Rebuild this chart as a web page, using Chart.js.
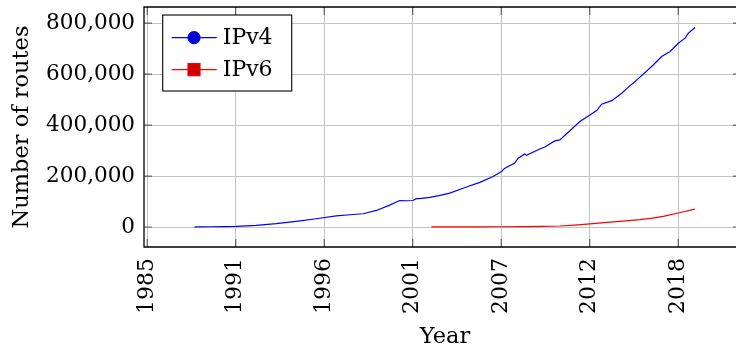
<!DOCTYPE html>
<html><head><meta charset="utf-8">
<script src="https://cdn.jsdelivr.net/npm/chart.js@4.4.1/dist/chart.umd.min.js"></script>
<style>
html,body{margin:0;padding:0;overflow:hidden;background:#fff}
#wrap{width:736px;height:351px;position:relative}
</style>
</head><body><div id="wrap"><canvas id="c"></canvas></div>
<script>
// ---- data ----
const ipv4Years = [1988.47, 1989.5, 1990.3, 1991.05, 1992.29, 1993.53, 1994.77, 1996.01, 1997.25, 1998.1, 1998.9, 1999.73, 2000.55, 2001.17, 2001.6, 2001.99, 2002.2, 2002.41, 2003.03, 2003.6, 2004.27, 2005.3, 2006.13, 2006.95, 2007.47, 2007.68, 2008.29, 2008.5, 2008.91, 2009.02, 2009.84, 2010.15, 2010.77, 2011.08, 2011.7, 2012.32, 2012.94, 2013.36, 2013.67, 2014.29, 2014.91, 2015.42, 2015.62, 2016.24, 2016.86, 2017.38, 2017.9, 2018.41, 2018.83, 2019.03, 2019.45];
const ipv4Routes = [500, 1000, 1600, 2400, 6000, 13000, 22000, 32500, 44000, 48000, 52000, 65000, 86000, 104000, 103000, 104000, 111000, 111000, 116000, 123000, 133000, 157000, 175000, 198000, 218000, 231000, 251000, 270000, 287000, 281000, 306000, 314000, 338000, 342000, 378000, 414000, 440000, 457000, 482000, 496000, 525000, 555000, 564000, 600000, 636000, 669000, 689000, 721000, 741000, 761000, 783000];
const ipv6Years = [2003.13, 2004.5, 2006.0, 2007.47, 2009.0, 2010.0, 2011.08, 2012.0, 2012.94, 2014.0, 2015.0, 2016.04, 2016.8, 2017.48, 2018.41, 2019.43];
const ipv6Routes = [500, 600, 800, 1000, 1800, 2800, 4000, 7500, 12000, 18000, 23000, 29000, 35000, 42000, 55000, 70000];
const xTickYears = [1985.55, 1991.026, 1996.502, 2001.978, 2007.454, 2012.93, 2018.406];
const xTickLabels = ['1985', '1991', '1996', '2001', '2007', '2012', '2018'];
const yTickValues = [0, 200000, 400000, 600000, 800000];
const seriesNames = ['IPv4', 'IPv6'];
const xTitle = 'Year';
const yTitle = 'Number of routes';

const FONT = "'DejaVu Serif', serif";

const toPoints = (xs, ys) => xs.map((x, i) => ({x: x, y: ys[i]}));

// axis frame (right side lies outside the visible window in the reference) and inward ticks
const frameAndTicks = {
  id: 'frameAndTicks',
  afterDatasetsDraw(chart) {
    const ctx = chart.ctx, ca = chart.chartArea;
    const xs = chart.scales.x, ys = chart.scales.y;
    ctx.save();
    ctx.strokeStyle = 'rgba(0,0,0,0.55)';
    ctx.lineWidth = 1.2;
    ctx.beginPath();
    xs.ticks.forEach(t => {
      const px = xs.getPixelForValue(t.value);
      ctx.moveTo(px, ca.bottom); ctx.lineTo(px, ca.bottom - 8);
      ctx.moveTo(px, ca.top); ctx.lineTo(px, ca.top + 8);
    });
    ys.ticks.forEach(t => {
      const py = ys.getPixelForValue(t.value);
      ctx.moveTo(ca.left, py); ctx.lineTo(ca.left + 8, py);
      ctx.moveTo(ca.right, py); ctx.lineTo(ca.right - 3, py);
    });
    ctx.stroke();
    ctx.strokeStyle = '#000';
    ctx.lineWidth = 1.3;
    ctx.beginPath();
    ctx.moveTo(ca.right + 2, ca.top);
    ctx.lineTo(ca.left, ca.top);
    ctx.lineTo(ca.left, ca.bottom);
    ctx.lineTo(ca.right + 2, ca.bottom);
    ctx.stroke();
    // x-axis title, centred on the full (partly off-window) axis box
    ctx.fillStyle = '#000';
    ctx.font = "22.5px " + FONT;
    ctx.textAlign = 'center';
    ctx.textBaseline = 'middle';
    ctx.fillText(xTitle, (ca.left + ca.right) / 2 + 5, chart.height - 14);
    ctx.restore();
  }
};

const boxLegend = {
  id: 'boxLegend',
  afterDraw(chart) {
    const ctx = chart.ctx, ca = chart.chartArea;
    const x0 = ca.left + 18.7, y0 = ca.top + 8, w = 129, h = 76;
    ctx.save();
    ctx.fillStyle = '#fff';
    ctx.fillRect(x0, y0, w, h);
    ctx.strokeStyle = '#000';
    ctx.lineWidth = 1.1;
    ctx.strokeRect(x0, y0, w, h);
    chart.data.datasets.forEach((ds, i) => {
      const cy = y0 + 22.6 + i * 32;
      ctx.strokeStyle = ds.borderColor;
      ctx.lineWidth = 1.2;
      ctx.beginPath();
      ctx.moveTo(x0 + 9, cy); ctx.lineTo(x0 + 54, cy);
      ctx.stroke();
      const mx = x0 + 31.3;
      ctx.fillStyle = ds.markFill;
      ctx.beginPath();
      if (ds.markStyle === 'circle') {
        ctx.arc(mx, cy, 6, 0, Math.PI * 2);
      } else {
        ctx.rect(mx - 6, cy - 6, 12, 12);
      }
      ctx.fill();
      ctx.stroke();
      ctx.fillStyle = '#000';
      ctx.font = "22px " + FONT;
      ctx.textBaseline = 'middle';
      ctx.textAlign = 'left';
      ctx.fillText(ds.label, x0 + 60, cy + 1);
    });
    ctx.restore();
  }
};

new Chart(document.getElementById('c'), {
  type: 'line',
  data: {
    datasets: [
      {label: seriesNames[0], data: toPoints(ipv4Years, ipv4Routes), borderColor: '#0000ff', markFill: '#0000cc', markStyle: 'circle', borderWidth: 1.2, pointRadius: 0, tension: 0, fill: false},
      {label: seriesNames[1], data: toPoints(ipv6Years, ipv6Routes), borderColor: '#ff0000', markFill: '#cc0000', markStyle: 'rect', borderWidth: 1.2, pointRadius: 0, tension: 0, fill: false}
    ]
  },
  options: {
    responsive: true,
    maintainAspectRatio: false,
    animation: false,
    layout: {padding: {top: 7, right: 0, left: 0, bottom: 0}},
    plugins: {legend: {display: false}, tooltip: {enabled: false}},
    scales: {
      x: {
        type: 'linear',
        min: 1985.35,
        max: 2021.98,
        afterBuildTicks: s => { s.ticks = xTickYears.map(v => ({value: v})); },
        afterFit: s => { s.height = 104; s.paddingLeft = 0; s.paddingRight = 0; },
        grid: {color: '#c4c4c4', lineWidth: 1, drawTicks: false},
        border: {display: false},
        ticks: {
          minRotation: 90, maxRotation: 90, padding: 11, autoSkip: false,
          color: '#000', font: {family: FONT, size: 22},
          callback: (v, i) => xTickLabels[i]
        },
        title: {display: false}
      },
      y: {
        min: -78500,
        max: 863500,
        afterBuildTicks: s => { s.ticks = yTickValues.map(v => ({value: v})); },
        afterFit: s => { s.width = 144; s.paddingTop = 0; s.paddingBottom = 0; },
        grid: {color: '#c4c4c4', lineWidth: 1, drawTicks: false},
        border: {display: false},
        ticks: {
          padding: 9, color: '#000', font: {family: FONT, size: 21.5},
          callback: v => v.toLocaleString('en-US')
        },
        title: {display: true, text: yTitle, color: '#000', font: {family: FONT, size: 22.5}, padding: {top: 9, bottom: 0}}
      }
    }
  },
  plugins: [frameAndTicks, boxLegend]
});
</script>
</body></html>
